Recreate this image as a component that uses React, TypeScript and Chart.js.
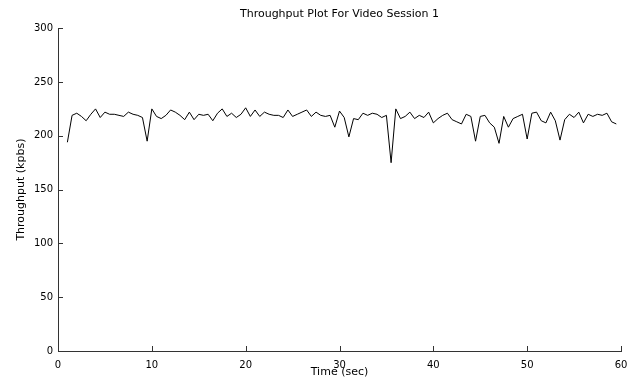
import React, { useEffect, useRef } from "react";
import { Chart, registerables } from "chart.js";

Chart.register(...registerables);

const TITLE = "Throughput Plot For Video Session 1";
const X_LABEL = "Time (sec)";
const Y_LABEL = "Throughput (kpbs)";
const X_TICKS = [0, 10, 20, 30, 40, 50, 60];
const Y_TICKS = [0, 50, 100, 150, 200, 250, 300];

const TIMES = [
  1, 1.5, 2, 2.5, 3, 3.5, 4, 4.5, 5, 5.5, 6, 6.5, 7, 7.5, 8, 8.5, 9, 9.5, 10, 10.5,
  11, 11.5, 12, 12.5, 13, 13.5, 14, 14.5, 15, 15.5, 16, 16.5, 17, 17.5, 18, 18.5, 19, 19.5, 20, 20.5,
  21, 21.5, 22, 22.5, 23, 23.5, 24, 24.5, 25, 25.5, 26, 26.5, 27, 27.5, 28, 28.5, 29, 29.5, 30, 30.5,
  31, 31.5, 32, 32.5, 33, 33.5, 34, 34.5, 35, 35.5, 36, 36.5, 37, 37.5, 38, 38.5, 39, 39.5, 40, 40.5,
  41, 41.5, 42, 42.5, 43, 43.5, 44, 44.5, 45, 45.5, 46, 46.5, 47, 47.5, 48, 48.5, 49, 49.5, 50, 50.5,
  51, 51.5, 52, 52.5, 53, 53.5, 54, 54.5, 55, 55.5, 56, 56.5, 57, 57.5, 58, 58.5, 59, 59.5,
];

const THROUGHPUT = [
  194, 219, 221, 218, 214, 220, 225, 217, 222, 220, 220, 219, 218, 222, 220, 219, 217, 195, 225, 218,
  216, 219, 224, 222, 219, 215, 222, 215, 220, 219, 220, 214, 221, 225, 218, 221, 217, 220, 226, 218,
  224, 218, 222, 220, 219, 219, 217, 224, 218, 220, 222, 224, 218, 222, 219, 218, 219, 208, 223, 217,
  199, 216, 215, 221, 219, 221, 220, 217, 219, 175, 225, 216, 218, 222, 216, 219, 217, 222, 212, 216,
  219, 221, 215, 213, 211, 220, 218, 195, 218, 219, 212, 208, 193, 218, 208, 216, 218, 220, 197, 221,
  222, 214, 212, 222, 214, 196, 215, 220, 217, 222, 212, 220, 218, 220, 219, 221, 213, 211,
];

const FONT = "'DejaVu Sans', 'Liberation Sans', Arial, sans-serif";

const inwardTicks = {
  id: "inwardTicks",
  afterDatasetsDraw(chart: any) {
    const { ctx, chartArea, scales } = chart;
    ctx.save();
    ctx.strokeStyle = "#333";
    ctx.lineWidth = 1;
    ctx.beginPath();
    X_TICKS.forEach((v) => {
      const x = Math.round(scales.x.getPixelForValue(v)) + 0.5;
      ctx.moveTo(x, chartArea.bottom);
      ctx.lineTo(x, chartArea.bottom - 5);
    });
    Y_TICKS.forEach((v) => {
      const y = Math.round(scales.y.getPixelForValue(v)) + 0.5;
      ctx.moveTo(chartArea.left, y);
      ctx.lineTo(chartArea.left + 5, y);
    });
    ctx.stroke();
    ctx.restore();
  },
};

export default function App() {
  const ref = useRef<HTMLCanvasElement | null>(null);

  useEffect(() => {
    document.body.style.margin = "0";
    const canvas = ref.current;
    if (!canvas) return;
    const chart = new Chart(canvas, {
      type: "line",
      data: {
        datasets: [
          {
            label: "Throughput",
            data: TIMES.map((t, i) => ({ x: t, y: THROUGHPUT[i] })),
            borderColor: "#000",
            borderWidth: 1,
            pointRadius: 0,
            tension: 0,
            fill: false,
          },
        ],
      },
      options: {
        animation: false,
        responsive: false,
        maintainAspectRatio: false,
        layout: { padding: { left: 0, right: 6, top: 0, bottom: 0 } },
        plugins: {
          legend: { display: false },
          tooltip: { enabled: false },
          title: {
            display: true,
            text: TITLE,
            fullSize: false,
            color: "#000",
            font: { family: FONT, size: 11, weight: "normal" },
            padding: { top: 8, bottom: 7 },
          },
        },
        scales: {
          x: {
            type: "linear",
            min: 0,
            max: 60,
            grid: { display: false, drawTicks: false },
            border: { display: true, color: "#333", width: 1 },
            ticks: {
              stepSize: 10,
              padding: 8,
              color: "#000",
              font: { family: FONT, size: 10 },
              maxRotation: 0,
            },
            title: {
              display: true,
              text: X_LABEL,
              color: "#000",
              font: { family: FONT, size: 11, lineHeight: 1 },
              padding: { top: 0, bottom: 0 },
            },
            afterFit: (s: any) => {
              s.height = 27;
              s.paddingLeft = 0;
              s.paddingRight = 0;
            },
          },
          y: {
            type: "linear",
            min: 0,
            max: 300,
            grid: { display: false, drawTicks: false },
            border: { display: true, color: "#333", width: 1 },
            ticks: {
              stepSize: 50,
              padding: 5,
              color: "#000",
              font: { family: FONT, size: 10 },
            },
            title: {
              display: true,
              text: Y_LABEL,
              color: "#000",
              font: { family: FONT, size: 11 },
              padding: { top: 15, bottom: 0 },
            },
            afterFit: (s: any) => {
              s.width = 58;
              s.paddingTop = 0;
              s.paddingBottom = 0;
            },
          },
        },
      },
      plugins: [inwardTicks],
    });
    return () => chart.destroy();
  }, []);

  return (
    <div style={{ width: 627, height: 378, position: "relative", background: "#fff" }}>
      <canvas ref={ref} width={627} height={378} style={{ width: 627, height: 378, display: "block" }} />
    </div>
  );
}
